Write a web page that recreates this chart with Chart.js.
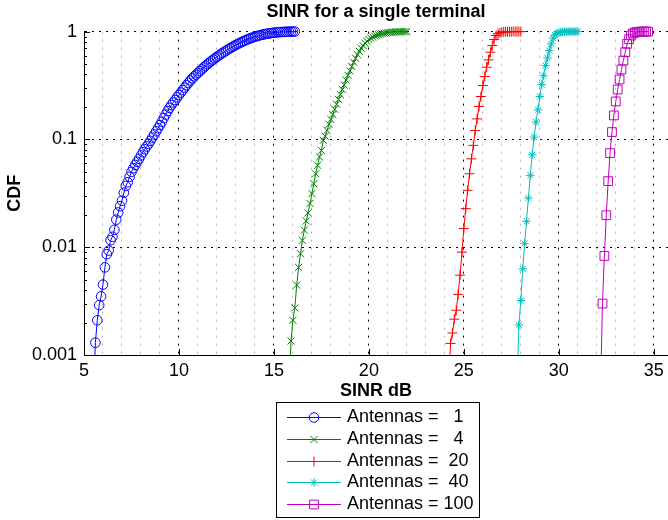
<!DOCTYPE html>
<html>
<head>
<meta charset="utf-8">
<script src="https://cdn.jsdelivr.net/npm/chart.js@4.4.1/dist/chart.umd.min.js"></script>
<style>
  html, body { margin: 0; padding: 0; background: #fff; }
  #wrap { width: 668px; height: 520px; position: relative; }
</style>
</head>
<body>
<div id="wrap"><canvas id="sinrChart"></canvas></div>
<script>
const FONT = "'Liberation Sans', Arial, Helvetica, sans-serif";

// SINR (dB) sample points and CDF values, one pair per antenna count
const sinrAnt1 = [5.5, 5.6, 5.7, 5.8, 5.9, 6.0, 6.1, 6.2, 6.3, 6.4, 6.5, 6.6, 6.7, 6.8, 6.9, 7.0, 7.1, 7.2, 7.3, 7.4,
  7.5, 7.6, 7.7, 7.8, 7.9, 8.0, 8.1, 8.2, 8.3, 8.4, 8.5, 8.6, 8.7, 8.8, 8.9, 9.0, 9.1, 9.2, 9.3, 9.4,
  9.5, 9.6, 9.7, 9.8, 9.9, 10.0, 10.1, 10.2, 10.3, 10.4, 10.5, 10.6, 10.7, 10.8, 10.9, 11.0, 11.1, 11.2, 11.3, 11.4,
  11.5, 11.6, 11.7, 11.8, 11.9, 12.0, 12.1, 12.2, 12.3, 12.4, 12.5, 12.6, 12.7, 12.8, 12.9, 13.0, 13.1, 13.2, 13.3, 13.4,
  13.5, 13.6, 13.7, 13.8, 13.9, 14.0, 14.1, 14.2, 14.3, 14.4, 14.5, 14.6, 14.7, 14.8, 14.9, 15.0, 15.1, 15.2, 15.3, 15.4,
  15.5, 15.6, 15.7, 15.8, 15.9, 16.0, 16.1];
const cdfAnt1 = [0.0005, 0.0013, 0.0021, 0.0029, 0.0035, 0.0045, 0.0065, 0.0086, 0.0093, 0.0116, 0.0125, 0.0145, 0.018, 0.021, 0.024, 0.027, 0.032, 0.037, 0.040, 0.045,
  0.050, 0.054, 0.058, 0.062, 0.066, 0.071, 0.076, 0.081, 0.086, 0.091, 0.097, 0.104, 0.111, 0.119, 0.127, 0.136, 0.146, 0.158, 0.170, 0.183,
  0.196, 0.208, 0.220, 0.232, 0.245, 0.258, 0.272, 0.287, 0.302, 0.318, 0.334, 0.351, 0.368, 0.384, 0.399, 0.414, 0.430, 0.447, 0.464, 0.481,
  0.498, 0.515, 0.532, 0.549, 0.566, 0.583, 0.600, 0.617, 0.634, 0.651, 0.668, 0.685, 0.702, 0.719, 0.736, 0.752, 0.768, 0.784, 0.800, 0.815,
  0.830, 0.845, 0.859, 0.872, 0.884, 0.896, 0.907, 0.918, 0.928, 0.937, 0.945, 0.953, 0.960, 0.966, 0.972, 0.977, 0.981, 0.985, 0.988, 0.991,
  0.993, 0.995, 0.997, 0.998, 0.999, 1.0, 1.0];

const sinrAnt4 = [15.8, 15.9, 16.0, 16.1, 16.2, 16.3, 16.4, 16.5, 16.6, 16.7, 16.8, 16.9, 17.0, 17.1, 17.2, 17.3, 17.4, 17.5, 17.6, 17.7,
  17.8, 17.9, 18.0, 18.1, 18.2, 18.3, 18.4, 18.5, 18.6, 18.7, 18.8, 18.9, 19.0, 19.1, 19.2, 19.3, 19.4, 19.5, 19.6, 19.7,
  19.8, 19.9, 20.0, 20.1, 20.2, 20.3, 20.4, 20.5, 20.6, 20.7, 20.8, 20.9, 21.0, 21.1, 21.2, 21.3, 21.4, 21.5, 21.6, 21.7,
  21.8, 21.9, 22.0];
const cdfAnt4 = [0.0005, 0.00135, 0.0021, 0.00274, 0.00445, 0.0065, 0.0087, 0.0116, 0.0144, 0.0175, 0.0208, 0.0254, 0.0314, 0.0387, 0.048, 0.0575, 0.0687, 0.079, 0.098, 0.107,
  0.121, 0.138, 0.153, 0.170, 0.190, 0.212, 0.235, 0.26, 0.29, 0.32, 0.355, 0.393, 0.433, 0.475, 0.52, 0.565, 0.61, 0.655, 0.70, 0.74,
  0.78, 0.815, 0.845, 0.87, 0.89, 0.91, 0.925, 0.937, 0.948, 0.957, 0.965, 0.972, 0.978, 0.983, 0.987, 0.99, 0.993, 0.995, 0.997, 0.998,
  0.999, 1.0, 1.0];

const sinrAnt20 = [24.2, 24.3, 24.4, 24.5, 24.6, 24.7, 24.8, 24.9, 25.0, 25.1, 25.2, 25.3, 25.4, 25.5, 25.6, 25.7, 25.8, 25.9, 26.0, 26.1,
  26.2, 26.3, 26.4, 26.5, 26.6, 26.7, 26.8, 26.9, 27.0, 27.1, 27.2, 27.3, 27.4, 27.5, 27.6, 27.7, 27.8, 27.9, 28.0];
const cdfAnt20 = [0.0005, 0.00128, 0.0016, 0.00215, 0.0026, 0.00365, 0.0055, 0.009, 0.0149, 0.0228, 0.0337, 0.048, 0.066, 0.088, 0.121, 0.155, 0.202, 0.25, 0.316, 0.383,
  0.467, 0.547, 0.644, 0.742, 0.845, 0.92, 0.955, 0.975, 0.986, 0.992, 0.995, 0.997, 0.998, 0.999, 1.0, 1.0, 1.0, 1.0, 1.0];

const sinrAnt40 = [27.8, 27.9, 28.0, 28.1, 28.2, 28.3, 28.4, 28.5, 28.6, 28.7, 28.8, 28.9, 29.0, 29.1, 29.2, 29.3, 29.4, 29.5, 29.6, 29.7,
  29.8, 29.9, 30.0, 30.1, 30.2, 30.3, 30.4, 30.5, 30.6, 30.7, 30.8, 30.9, 31.0];
const cdfAnt40 = [0.0005, 0.0019, 0.0032, 0.0063, 0.0108, 0.0174, 0.0286, 0.0464, 0.072, 0.105, 0.145, 0.188, 0.25, 0.323, 0.39, 0.484, 0.57, 0.667, 0.77, 0.87,
  0.93, 0.96, 0.978, 0.988, 0.993, 0.996, 0.998, 0.999, 1.0, 1.0, 1.0, 1.0, 1.0];

const sinrAnt100 = [32.2, 32.3, 32.4, 32.5, 32.6, 32.7, 32.8, 32.9, 33.0, 33.1, 33.2, 33.3, 33.4, 33.5, 33.6, 33.7, 33.8, 33.9, 34.0, 34.1,
  34.2, 34.3, 34.4, 34.5, 34.6, 34.7];
const cdfAnt100 = [0.0005, 0.003, 0.0083, 0.0198, 0.041, 0.0747, 0.117, 0.167, 0.225, 0.29, 0.36, 0.445, 0.539, 0.644, 0.77, 0.85, 0.92, 0.96, 0.98, 0.99,
  0.995, 0.998, 0.999, 1.0, 1.0, 1.0];

const seriesLabels = ['Antennas =   1', 'Antennas =   4', 'Antennas =  20', 'Antennas =  40', 'Antennas = 100'];
const yTickValues = [0.001, 0.01, 0.1, 1];
const yTickLabels = ['0.001', '0.01', '0.1', '1'];

const lineColors = ['#0000ff', '#008000', '#ff0000', '#00bfbf', '#bf00bf'];
const markerStyles = ['circle', 'crossRot', 'cross', 'star', 'rect'];
const markerRadius = [4.8, 5, 5, 4.2, 6.2];

function pairUp(xs, ys) {
  return xs.map((x, i) => ({ x: x, y: ys[i] }));
}

const allSeries = [
  pairUp(sinrAnt1, cdfAnt1),
  pairUp(sinrAnt4, cdfAnt4),
  pairUp(sinrAnt20, cdfAnt20),
  pairUp(sinrAnt40, cdfAnt40),
  pairUp(sinrAnt100, cdfAnt100)
];

// inner tick marks (MATLAB style) + boxed legend under the axis label
const matlabDecor = {
  id: 'matlabDecor',
  afterDraw(chart) {
    const { ctx, chartArea, scales } = chart;
    const yScale = scales.y;
    const xScale = scales.x;
    ctx.save();
    ctx.strokeStyle = '#000';
    ctx.lineWidth = 1;
    ctx.setLineDash([]);
    ctx.beginPath();
    for (let e = -3; e <= 0; e++) {
      for (let m = 1; m <= 9; m++) {
        const v = m * Math.pow(10, e);
        if (v > 1.0001) break;
        const py = Math.round(yScale.getPixelForValue(v)) + 0.5;
        const len = m === 1 ? 6 : 3;
        ctx.moveTo(chartArea.left, py);
        ctx.lineTo(chartArea.left + len, py);
      }
    }
    for (let v = 5; v <= 35; v += 5) {
      const px = Math.round(xScale.getPixelForValue(v)) + 0.5;
      ctx.moveTo(px, chartArea.bottom);
      ctx.lineTo(px, chartArea.bottom - 6);
    }
    ctx.stroke();

    // legend box
    const bx = 276, by = 402, bw = 203, bh = 116;
    ctx.fillStyle = '#fff';
    ctx.fillRect(bx, by, bw, bh);
    ctx.strokeStyle = '#000';
    ctx.strokeRect(bx + 0.5, by + 0.5, bw, bh - 1);
    ctx.font = '18px ' + FONT;
    ctx.textBaseline = 'middle';
    ctx.textAlign = 'left';
    chart.data.datasets.forEach((ds, i) => {
      const ry = Math.round(417 + i * 21.75) + 0.5;
      ctx.strokeStyle = ds.borderColor;
      ctx.lineWidth = 1;
      ctx.beginPath();
      ctx.moveTo(287, ry);
      ctx.lineTo(341, ry);
      ctx.stroke();
      ctx.fillStyle = 'rgba(0,0,0,0)';
      Chart.helpers.drawPoint(ctx, {
        pointStyle: ds.pointStyle, radius: ds.pointRadius, borderWidth: 1, rotation: 0
      }, 314, ry);
      ctx.fillStyle = '#000';
      ctx.fillText(ds.label, 347, ry);
    });
    ctx.restore();
  }
};

Chart.defaults.font.family = FONT;
Chart.defaults.color = '#000';

new Chart(document.getElementById('sinrChart'), {
  type: 'line',
  data: {
    datasets: allSeries.map((pts, i) => ({
      label: seriesLabels[i],
      data: pts,
      borderColor: lineColors[i],
      backgroundColor: 'rgba(0,0,0,0)',
      borderWidth: 1,
      pointStyle: markerStyles[i],
      pointRadius: markerRadius[i],
      pointHoverRadius: markerRadius[i],
      pointBorderColor: lineColors[i],
      pointBackgroundColor: 'rgba(0,0,0,0)',
      pointBorderWidth: 1,
      fill: false,
      tension: 0,
      clip: { left: 20, top: 20, right: 20, bottom: 0 }
    }))
  },
  options: {
    responsive: true,
    maintainAspectRatio: false,
    animation: false,
    events: [],
    layout: { autoPadding: false, padding: { top: 0, right: 0, bottom: 118, left: 0 } },
    plugins: {
      legend: { display: false },
      tooltip: { enabled: false },
      title: {
        display: true,
        text: 'SINR for a single terminal',
        fullSize: false,
        color: '#000',
        font: { size: 18, weight: 'bold' },
        padding: { top: 1, bottom: 9 }
      }
    },
    scales: {
      x: {
        type: 'linear',
        min: 5,
        max: 35.75,
        afterFit: (s) => { s.height = 47; s.paddingLeft = 0; s.paddingRight = 0; },
        ticks: {
          stepSize: 1,
          autoSkip: false,
          maxRotation: 0,
          includeBounds: false,
          padding: 5,
          font: { size: 18 },
          callback: (v) => (Math.round(v) % 5 === 0 ? String(Math.round(v)) : '')
        },
        grid: {
          drawTicks: false,
          lineWidth: 1,
          color: (c) => (c.tick && Math.round(c.tick.value) % 5 === 0 ? '#000' : '#b0b0b0')
        },
        border: { display: true, color: '#000', width: 1, dash: [2, 6] },
        title: {
          display: true,
          text: 'SINR dB',
          font: { size: 18, weight: 'bold' },
          padding: { top: 0, bottom: 0 }
        }
      },
      y: {
        type: 'logarithmic',
        min: 0.001,
        max: 1,
        afterFit: (s) => { s.width = 84; s.paddingTop = 0; s.paddingBottom = 0; },
        afterBuildTicks: (s) => { s.ticks = yTickValues.map((v) => ({ value: v })); },
        ticks: {
          autoSkip: false,
          padding: 7,
          font: { size: 18 },
          callback: (v, i) => yTickLabels[i]
        },
        grid: { drawTicks: false, lineWidth: 1, color: '#000' },
        border: { display: true, color: '#000', width: 1, dash: [2, 5] },
        title: {
          display: true,
          text: 'CDF',
          font: { size: 18, weight: 'bold' },
          padding: { top: 4, bottom: 0 }
        }
      }
    }
  },
  plugins: [matlabDecor]
});
</script>
</body>
</html>
